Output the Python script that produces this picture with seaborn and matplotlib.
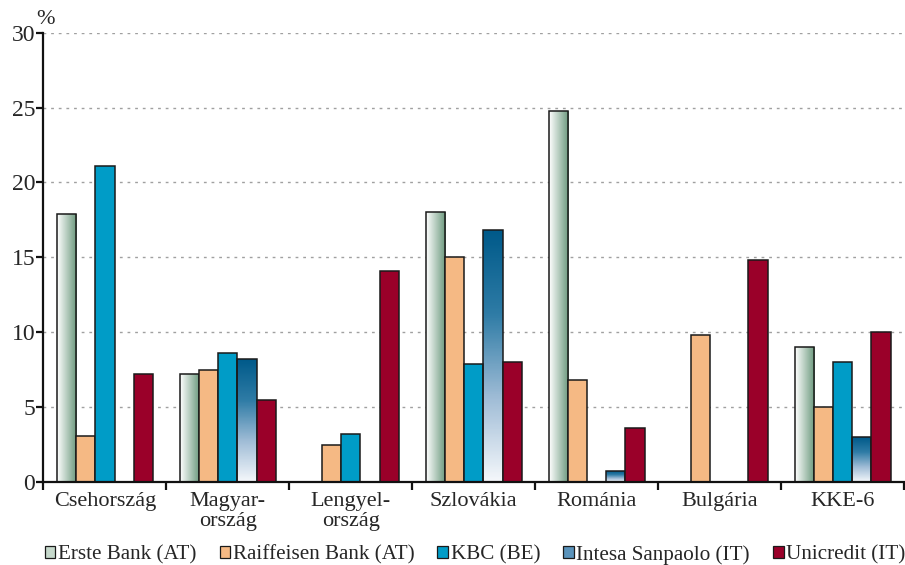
import numpy as np
import pandas as pd
import seaborn as sns
import matplotlib.pyplot as plt
from matplotlib.colors import LinearSegmentedColormap
from matplotlib.patches import Patch

categories = ["Csehország", "Magyar-\nország", "Lengyel-\nország", "Szlovákia",
              "Románia", "Bulgária", "KKE-6"]
series = ["Erste Bank (AT)", "Raiffeisen Bank (AT)", "KBC (BE)",
          "Intesa Sanpaolo (IT)", "Unicredit (IT)"]

erste = [17.9, 7.2, np.nan, 18.0, 24.8, np.nan, 9.0]
raiffeisen = [3.1, 7.5, 2.5, 15.0, 6.8, 9.8, 5.0]
kbc = [21.1, 8.6, 3.2, 7.9, np.nan, np.nan, 8.0]
intesa = [np.nan, 8.2, np.nan, 16.8, 0.7, np.nan, 3.0]
unicredit = [7.2, 5.5, 14.1, 8.0, 3.6, 14.8, 10.0]

colors = ["#8fb39c", "#f5b984", "#009cc7", "#2d7fab", "#9a0029"]

rows = []
for name, vals in zip(series, [erste, raiffeisen, kbc, intesa, unicredit]):
    for cat, v in zip(categories, vals):
        rows.append({"cat": cat, "bank": name, "value": v})
df = pd.DataFrame(rows)

sns.set_style("white")
plt.rcParams["font.family"] = ["Liberation Serif", "DejaVu Serif"]

fig = plt.figure(figsize=(9.05, 5.65), dpi=100)
ax = fig.add_axes([0.048, 0.147, 0.951, 0.795])

sns.barplot(data=df, x="cat", y="value", hue="bank", order=categories,
            hue_order=series, palette=colors, width=0.78, saturation=1,
            edgecolor="#1a1a1a", linewidth=1.1, legend=False, ax=ax)

# gradient fills
erste_cmap = LinearSegmentedColormap.from_list("erste", ["#ffffff", "#6a987c"])
intesa_cmap = LinearSegmentedColormap.from_list(
    "intesa", ["#f4f7fb", "#9fbcd6", "#2f7ca6", "#005a8a"])
hgrad = np.linspace(0, 1, 100).reshape(1, -1)
vgrad = np.linspace(0, 1, 100).reshape(-1, 1)

for idx, cmap, grad in [(0, erste_cmap, hgrad), (3, intesa_cmap, vgrad)]:
    for bar in ax.containers[idx]:
        h = bar.get_height()
        if not np.isfinite(h) or h == 0:
            continue
        x0 = bar.get_x()
        w = bar.get_width()
        im = ax.imshow(grad, extent=[x0, x0 + w, 0, h], origin="lower",
                       aspect="auto", cmap=cmap, zorder=bar.get_zorder() - 0.1)
        im.set_clip_path(bar)
        bar.set_facecolor("none")

ax.set_xlim(-0.5, len(categories) - 0.5)
ax.set_ylim(0, 30)
ax.set_yticks(range(0, 31, 5))
ax.set_xlabel("")
ax.set_ylabel("")

ax.grid(axis="y", color="#a0a0a0", linestyle=(0, (2, 3.5)), linewidth=1)
ax.set_axisbelow(True)
sns.despine(ax=ax)
for s in ["left", "bottom"]:
    ax.spines[s].set_color("#111111")
    ax.spines[s].set_linewidth(1.6)

ax.tick_params(axis="y", which="major", left=True, length=5, width=1.6,
               labelsize=17, pad=1, color="#111111")
ax.tick_params(axis="x", which="major", bottom=False, labelsize=16, pad=4)
ax.set_xticks(np.arange(-0.5, len(categories), 1), minor=True)
ax.tick_params(axis="x", which="minor", bottom=True, length=6, width=1.6,
               color="#111111")
for lab in ax.get_xticklabels():
    lab.set_linespacing(1.05)

ax.text(-0.008, 1.008, "%", transform=ax.transAxes, fontsize=16,
        ha="left", va="bottom")

handles = [Patch(facecolor=c, edgecolor="#1a1a1a", linewidth=0.9) for c in
           ["#c6d9cc", colors[1], colors[2], "#5a93bb", colors[4]]]
fig.legend(handles, series, loc="lower center", ncol=5,
           bbox_to_anchor=(0.525, -0.022), frameon=False, fontsize=15.2,
           handlelength=0.5, handleheight=0.5, handletextpad=0.12,
           columnspacing=1.1, borderaxespad=0.2)

fig.savefig("out.png", dpi=100)
